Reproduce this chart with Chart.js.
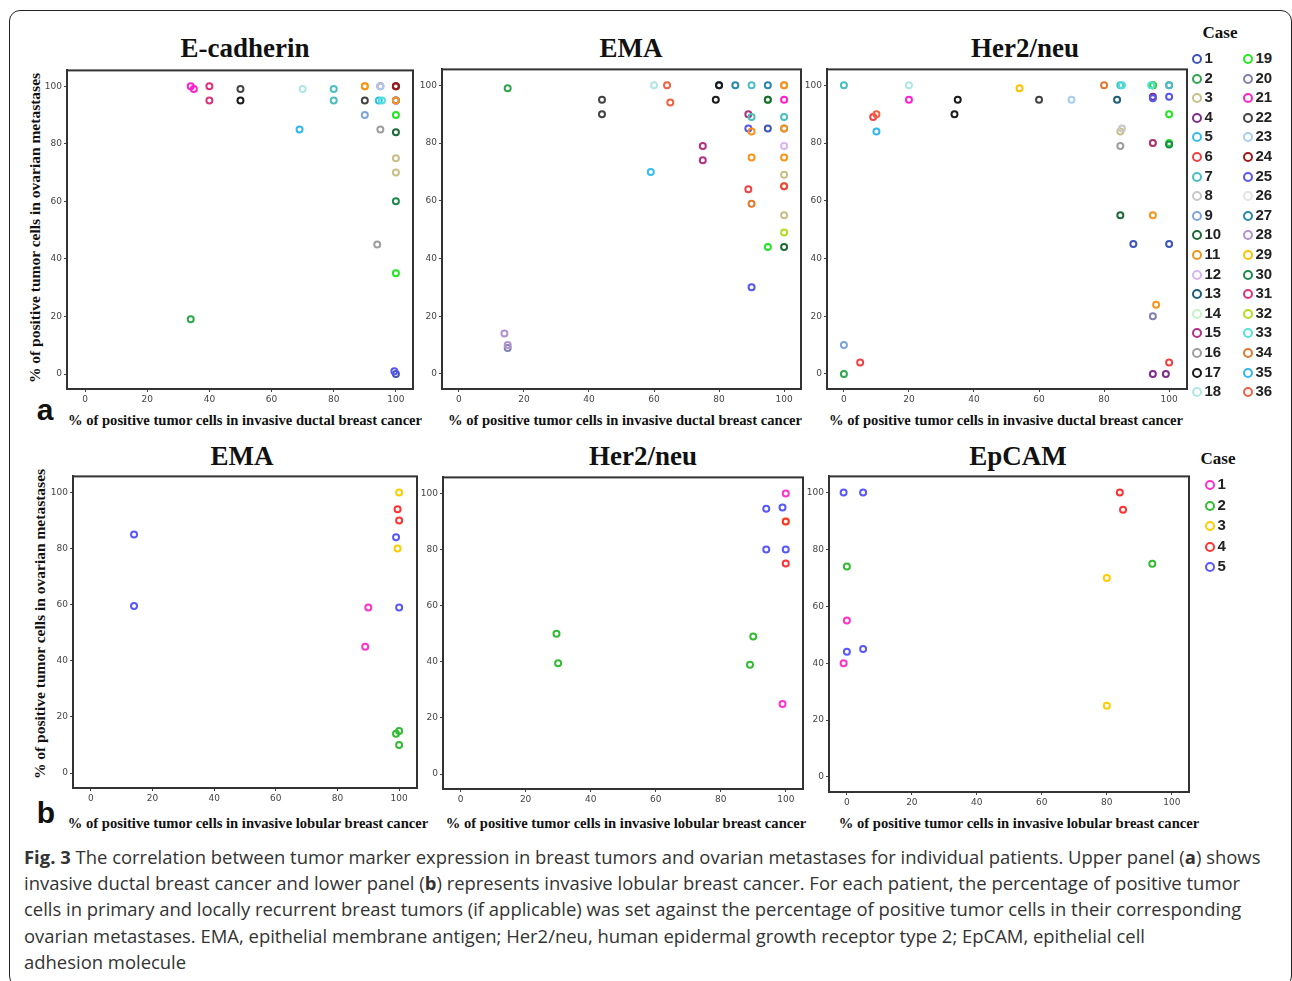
<!DOCTYPE html>
<html>
<head>
<meta charset="utf-8">
<script src="https://cdn.jsdelivr.net/npm/chart.js@4.4.1/dist/chart.umd.min.js"></script>
<style>
  body { margin: 0; width: 1292px; height: 981px; background: #fff; position: relative; overflow: hidden; }
  .box { position: absolute; left: 9px; top: 10px; width: 1281px; height: 975px; border: 1.5px solid #222; border-radius: 11px; }
  .c { position: absolute; transform: translate(-50%, -50%); white-space: nowrap; }
  .ptitle { font: bold 27px "Liberation Serif", serif; color: #111; }
  .xt { font: bold 14.6px "Liberation Serif", serif; color: #111; }
  .yt { font: bold 15.5px "Liberation Serif", serif; color: #111; transform: translate(-50%, -50%) rotate(-90deg); }
  .lab { font: bold 30px "Liberation Sans", sans-serif; color: #111; }
  .case { font: bold 17px "Liberation Serif", serif; color: #111; }
  .leg { position: absolute; font: bold 15px "Liberation Sans", sans-serif; color: #222; line-height: 16px; }
  .leg i { display: inline-block; width: 6px; height: 6px; border: 2.5px solid; border-radius: 50%; margin-right: 3px; vertical-align: -1px; }
  canvas { position: absolute; }
  .cap { position: absolute; left: 24px; top: 844px; font: 18.45px "Open Sans", sans-serif; line-height: 26.2px; color: #333; white-space: nowrap; }
</style>
</head>
<body>
<div class="box"></div>

<div class="c ptitle" style="left:245px;top:48px">E-cadherin</div>
<div class="c ptitle" style="left:631px;top:48px">EMA</div>
<div class="c ptitle" style="left:1025px;top:48px">Her2/neu</div>
<div class="c ptitle" style="left:242px;top:456px">EMA</div>
<div class="c ptitle" style="left:643px;top:456px">Her2/neu</div>
<div class="c ptitle" style="left:1018px;top:456px">EpCAM</div>

<div class="c yt" style="left:35px;top:228px">% of positive tumor cells in ovarian metastases</div>
<div class="c yt" style="left:40px;top:624px">% of positive tumor cells in ovarian metastases</div>

<div class="c xt" style="left:245px;top:420px">% of positive tumor cells in invasive ductal breast cancer</div>
<div class="c xt" style="left:625px;top:420px">% of positive tumor cells in invasive ductal breast cancer</div>
<div class="c xt" style="left:1006px;top:420px">% of positive tumor cells in invasive ductal breast cancer</div>
<div class="c xt" style="left:248px;top:823px">% of positive tumor cells in invasive lobular breast cancer</div>
<div class="c xt" style="left:626px;top:823px">% of positive tumor cells in invasive lobular breast cancer</div>
<div class="c xt" style="left:1019px;top:823px">% of positive tumor cells in invasive lobular breast cancer</div>

<div class="c lab" style="left:45px;top:410px">a</div>
<div class="c lab" style="left:46px;top:813px">b</div>

<div class="c case" style="left:1220px;top:33px">Case</div>
<div class="c case" style="left:1218px;top:459px">Case</div>

<canvas id="a1"></canvas>
<canvas id="a2"></canvas>
<canvas id="a3"></canvas>
<canvas id="b1"></canvas>
<canvas id="b2"></canvas>
<canvas id="b3"></canvas>

<div id="legA"></div>
<div id="legB"></div>

<div class="cap"><b>Fig. 3</b> The correlation between tumor marker expression in breast tumors and ovarian metastases for individual patients. Upper panel (<b>a</b>) shows<br>invasive ductal breast cancer and lower panel (<b>b</b>) represents invasive lobular breast cancer. For each patient, the percentage of positive tumor<br>cells in primary and locally recurrent breast tumors (if applicable) was set against the percentage of positive tumor cells in their corresponding<br>ovarian metastases. EMA, epithelial membrane antigen; Her2/neu, human epidermal growth receptor type 2; EpCAM, epithelial cell<br>adhesion molecule</div>

<script>
const tickVals = [0, 20, 40, 60, 80, 100];

// case colours, upper panel (1..36) and lower panel (1..5)
const caseColors = ['#3f56b8', '#2ea84e', '#c9bf88', '#7d2f8c', '#36bdf0', '#ef4343', '#4bbfc0', '#c8c8c8', '#7ea6dc',
  '#1f6a38', '#f7941d', '#d8b4f0', '#1e5e78', '#c6f2c6', '#b23282', '#9e9e9e', '#1c1c1c', '#b2e6e6',
  '#22e822', '#8080b2', '#ff22cc', '#444444', '#a9cdf0', '#a01a1a', '#5656ee', '#e2e2e2', '#2a88ae',
  '#b393cc', '#ffc200', '#1e8a4c', '#e0327c', '#b2de22', '#52e0d8', '#e07a30', '#33b7f0', '#f26242'];
const lobColors = ['#ff33cc', '#33bb33', '#ffcc00', '#ff3333', '#5858ff'];

// a: E-cadherin (ductal)
const ecadX = [34, 35, 40, 40, 50, 50, 70, 69, 80, 80, 90, 90, 90, 90, 95, 95, 94.5, 95.5, 95, 100,
  100, 100, 100, 100, 100, 100, 100, 100, 100, 100, 94, 100, 34, 100, 99.5];
const ecadY = [100, 99, 100, 95, 99, 95, 99, 85, 99, 95, 100, 100, 95, 90, 100, 100, 95, 95, 85, 100,
  100, 100, 95, 95, 95, 90, 84, 75, 70, 60, 45, 35, 19, 0, 1];
const ecadCase = [21, 21, 31, 31, 22, 17, 18, 35, 7, 7, 29, 11, 22, 9, 6, 23, 5, 33, 16, 19,
  4, 24, 20, 25, 11, 19, 10, 3, 3, 30, 16, 19, 2, 1, 25];

// a: EMA (ductal)
const emaAX = [15, 60, 64, 44, 44, 65, 80, 80, 79, 85, 90, 95, 100, 100, 100, 95, 95, 100, 89, 90,
  100, 89, 90, 95, 100, 100, 75, 75, 100, 90, 100, 59, 100, 89, 100, 100, 90, 100, 100, 95,
  100, 90, 14, 15, 15];
const emaAY = [99, 100, 100, 95, 90, 94, 100, 100, 95, 100, 100, 100, 100, 100, 100, 95, 95, 95, 90, 89,
  89, 85, 84, 85, 85, 85, 79, 74, 79, 75, 75, 70, 69, 64, 65, 65, 59, 55, 49, 44,
  44, 30, 14, 9, 10];
const emaACase = [2, 18, 36, 22, 22, 36, 13, 17, 17, 27, 7, 27, 34, 26, 11, 19, 10, 21, 15, 7,
  7, 25, 11, 1, 20, 11, 15, 15, 12, 11, 11, 5, 3, 6, 32, 6, 34, 3, 32, 19,
  10, 25, 28, 20, 28];

// a: Her2/neu (ductal)
const herAX = [0, 20, 20, 9, 10, 10, 35, 34, 54, 60, 70, 80, 85, 85.5, 84, 85, 85.5, 85, 95, 95,
  94.5, 100, 100, 95, 95, 100, 100, 95, 95, 100, 100, 85, 95, 89, 100, 96, 95, 0, 5, 0,
  100, 95, 99];
const herAY = [100, 100, 95, 89, 90, 84, 95, 90, 99, 95, 95, 100, 100, 100, 95, 84, 85, 79, 100, 100,
  100, 100, 100, 96, 95.5, 96, 90, 80, 80, 80, 79.5, 55, 55, 45, 45, 24, 20, 10, 4, 0,
  4, 0, 0];
const herACase = [7, 18, 21, 6, 36, 35, 17, 17, 29, 22, 23, 34, 7, 33, 13, 3, 8, 16, 15, 19,
  33, 20, 7, 4, 25, 25, 19, 32, 15, 19, 30, 10, 11, 1, 1, 11, 20, 9, 6, 2,
  6, 4, 4];

// b: EMA (lobular)
const emaBX = [14, 14, 100, 99.5, 100, 99, 99.5, 90, 89, 100, 99, 100, 100];
const emaBY = [85, 59.5, 100, 94, 90, 84, 80, 59, 45, 59, 14, 15, 10];
const emaBCase = [5, 5, 3, 4, 4, 5, 3, 1, 1, 5, 2, 2, 2];

// b: Her2/neu (lobular)
const herBX = [100, 94, 99, 100, 100, 94, 100, 100, 29.5, 30, 90, 89, 99];
const herBY = [100, 94.5, 95, 90, 90, 80, 80, 75, 50, 39.5, 49, 39, 25];
const herBCase = [1, 5, 5, 3, 4, 5, 5, 4, 2, 2, 2, 2, 1];

// b: EpCAM (lobular)
const epX = [-1, 5, 0, 0, 0, 5, -1, 84, 85, 94, 80, 80];
const epY = [100, 100, 74, 55, 44, 45, 40, 100, 94, 75, 70, 25];
const epCase = [5, 5, 2, 1, 5, 5, 1, 4, 4, 2, 3, 3];

// draws the box round the plot area
const framePlugin = {
  id: 'frame',
  afterDraw(chart) {
    const a = chart.chartArea, ctx = chart.ctx;
    ctx.save();
    ctx.strokeStyle = '#333';
    ctx.lineWidth = 2;
    ctx.strokeRect(a.left, a.top, a.right - a.left, a.bottom - a.top);
    ctx.restore();
  }
};

const YW = 30, XH = 18, PT = 4, PR = 6;

function makeChart(id, frame, xr, yr, xs, ys, cases, colors) {
  const [L, T, R, B] = frame;
  const cv = document.getElementById(id);
  const w = R - L + YW + PR, h = B - T + PT + XH;
  cv.width = w; cv.height = h;
  cv.style.left = (L - YW) + 'px';
  cv.style.top = (T - PT) + 'px';
  cv.style.width = w + 'px';
  cv.style.height = h + 'px';

  const axis = (min, max, fit) => ({
    type: 'linear', min: min, max: max,
    afterBuildTicks: s => { s.ticks = tickVals.map(v => ({ value: v })); },
    afterFit: fit,
    ticks: { font: { size: 9, family: 'DejaVu Sans' }, color: '#444', padding: 2, maxRotation: 0 },
    grid: { drawOnChartArea: false, tickLength: 3, color: '#444' },
    border: { color: '#333', width: 2 }
  });

  new Chart(cv, {
    type: 'scatter',
    data: {
      datasets: [{
        data: xs.map((x, i) => ({ x: x, y: ys[i] })),
        pointBorderColor: cases.map(c => colors[c - 1]),
        pointBackgroundColor: 'rgba(255,255,255,0)',
        pointRadius: 3,
        pointBorderWidth: 2,
        pointHoverRadius: 3
      }]
    },
    options: {
      responsive: false,
      animation: false,
      devicePixelRatio: 1,
      layout: { padding: { top: PT, right: PR, left: 0, bottom: 0 } },
      plugins: { legend: { display: false }, tooltip: { enabled: false } },
      scales: {
        x: axis(xr[0], xr[1], s => { s.height = XH; }),
        y: axis(yr[0], yr[1], s => { s.width = YW; })
      }
    },
    plugins: [framePlugin]
  });
}

const yTop = [-5.2, 105.5], yBot = [-5.3, 105.7];
makeChart('a1', [67, 67, 413, 389], [-5.8, 105.5], yTop, ecadX, ecadY, ecadCase, caseColors);
makeChart('a2', [442, 66, 801, 389], [-5.2, 105.2], yTop, emaAX, emaAY, emaACase, caseColors);
makeChart('a3', [827, 66, 1187, 389], [-5.2, 105.5], yTop, herAX, herAY, herACase, caseColors);
makeChart('b1', [73, 473, 417, 788], [-5.8, 105.8], yBot, emaBX, emaBY, emaBCase, lobColors);
makeChart('b2', [443, 474, 803, 789], [-5.4, 105.3], yBot, herBX, herBY, herBCase, lobColors);
makeChart('b3', [829, 473, 1189, 792], [-5.5, 105.3], yBot, epX, epY, epCase, lobColors);

// html legends
function legend(el, colors, cols, x0, colGap, y0, rowGap) {
  const root = document.getElementById(el);
  const perCol = Math.ceil(colors.length / cols);
  colors.forEach((col, i) => {
    const d = document.createElement('div');
    d.className = 'leg';
    d.style.left = (x0 + Math.floor(i / perCol) * colGap - 5.5) + 'px';
    d.style.top = (y0 + (i % perCol) * rowGap - 8) + 'px';
    d.innerHTML = '<i style="border-color:' + col + '"></i>' + (i + 1);
    root.appendChild(d);
  });
}
legend('legA', caseColors, 2, 1197, 51, 58, 19.6);
legend('legB', lobColors, 1, 1210, 0, 484, 20.5);
</script>
</body>
</html>
